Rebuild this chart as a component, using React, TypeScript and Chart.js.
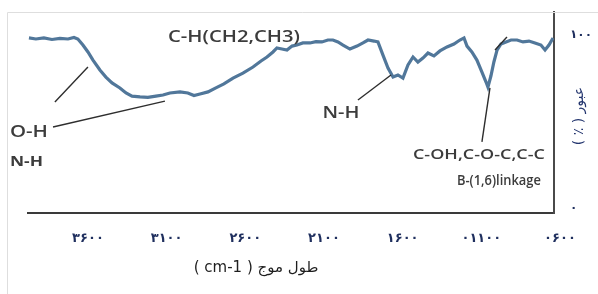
import React, { useEffect, useRef } from "react";
import { Chart, registerables } from "chart.js";

Chart.register(...registerables);

// Wavenumber (cm-1) and transmittance (%)
const wavenumbers = [
  3975, 3931, 3880, 3829, 3778, 3727, 3689, 3664, 3632, 3600, 3568, 3524, 3486, 3447, 3397, 3358,
  3320, 3269, 3219, 3168, 3123, 3079, 3015, 2965, 2926, 2888, 2837, 2787, 2736, 2678, 2615, 2551,
  2500, 2462, 2424, 2399, 2367, 2335, 2303, 2272, 2234, 2189, 2151, 2113, 2075, 2043, 2011, 1979,
  1935, 1890, 1852, 1820, 1782, 1757, 1725, 1693, 1661, 1630, 1598, 1566, 1534, 1503, 1471, 1439,
  1401, 1363, 1318, 1274, 1236, 1210, 1191, 1160, 1128, 1096, 1070, 1058, 1039, 1020, 1000, 975,
  943, 911, 873, 835, 797, 759, 721, 695, 670, 644,
];
const transmittance = [
  98.3, 97.7, 98.3, 97.4, 98.0, 97.7, 98.6, 97.7, 94.2, 90.2, 85.5, 79.8, 75.7, 72.3, 69.4, 66.5,
  64.7, 64.2, 63.9, 64.7, 65.3, 66.5, 67.1, 66.5, 65.0, 65.9, 67.1, 69.4, 71.7, 75.1, 78.0, 81.5,
  85.0, 87.3, 90.2, 92.5, 91.9, 91.3, 93.6, 94.2, 95.4, 95.4, 96.2, 96.0, 97.1, 97.1, 96.0, 94.2,
  91.9, 93.6, 95.4, 97.1, 96.5, 96.0, 88.4, 80.9, 75.7, 76.9, 75.1, 82.7, 87.3, 84.4, 86.7, 89.6,
  87.9, 90.8, 93.1, 94.8, 97.1, 98.3, 93.6, 90.2, 85.5, 78.6, 72.8, 69.9, 76.3, 84.4, 91.3, 94.8,
  96.0, 97.1, 97.1, 96.0, 96.5, 95.4, 94.2, 91.3, 94.2, 98.3,
];

const xTickValues = [3600, 3100, 2600, 2100, 1600, 1100, 600];
const xTickLabels = ["۳۶۰۰", "۳۱۰۰", "۲۶۰۰", "۲۱۰۰", "۱۶۰۰", "۰۱۱۰۰", "۰۶۰۰"];
const yTickValues = [0, 100];
const yTickLabels = ["۰", "۱۰۰"];

const xAxisTitle = "طول موج ( cm-1 )";
const yAxisTitle = "عبور ( ٪ )";

// Band annotations (text, anchor in data units)
const bandTexts = ["C-H(CH2,CH3)", "O-H", "N-H", "N-H", "C-OH,C-O-C,C-C", "B-(1,6)linkage"];
const bandX = [2672, 3975, 3991, 1992, 1115, 988];
const bandY = [98.8, 43.9, 26.6, 54.9, 30.6, 15.6];
// Leader lines (data units)
const leaderFromX = [3810, 3822, 1884, 1096, 1013];
const leaderFromY = [61.3, 46.8, 62.4, 38.2, 91.3];
const leaderToX = [3600, 3111, 1674, 1045, 937];
const leaderToY = [81.5, 61.8, 76.9, 69.4, 98.8];

// style per annotation: font size, target width, weight
const bandStyle = [
  { size: 17, w: 132, weight: "600" },
  { size: 17, w: 38, weight: "600" },
  { size: 14, w: 33, weight: "700" },
  { size: 17, w: 37, weight: "600" },
  { size: 15, w: 132, weight: "600" },
  { size: 14, w: 84, weight: "600" },
];

const X_MIN = 638;
const X_MAX = 3981;
const Y_MIN = -2.9;
const Y_MAX = 113.3;

const annotationPlugin = {
  id: "annots",
  afterDraw(chart: any) {
    const ctx = chart.ctx as CanvasRenderingContext2D;
    const xs = chart.scales.x;
    const ys = chart.scales.y;
    ctx.save();
    // outer light frame
    ctx.strokeStyle = "#dedede";
    ctx.lineWidth = 1;
    ctx.beginPath();
    ctx.moveTo(7.5, 294);
    ctx.lineTo(7.5, 12.5);
    ctx.lineTo(598, 12.5);
    ctx.stroke();

    // leader lines
    ctx.strokeStyle = "#2e2e2e";
    ctx.lineWidth = 1.4;
    for (let i = 0; i < leaderFromX.length; i++) {
      ctx.beginPath();
      ctx.moveTo(xs.getPixelForValue(leaderFromX[i]), ys.getPixelForValue(leaderFromY[i]));
      ctx.lineTo(xs.getPixelForValue(leaderToX[i]), ys.getPixelForValue(leaderToY[i]));
      ctx.stroke();
    }

    // band labels
    ctx.fillStyle = "#3c3c3c";
    ctx.textAlign = "center";
    ctx.textBaseline = "middle";
    (ctx as any).direction = "ltr";
    for (let i = 0; i < bandTexts.length; i++) {
      const st = bandStyle[i];
      ctx.font = `${st.weight} ${st.size}px "Open Sans", sans-serif`;
      const mw = ctx.measureText(bandTexts[i]).width;
      const sx = st.w / mw;
      ctx.save();
      ctx.translate(xs.getPixelForValue(bandX[i]), ys.getPixelForValue(bandY[i]));
      ctx.scale(sx, 1);
      ctx.fillText(bandTexts[i], 0, 0);
      ctx.restore();
    }

    // axis titles
    (ctx as any).direction = "rtl";
    ctx.fillStyle = "#1e1e1e";
    ctx.font = `15px "DejaVu Sans", sans-serif`;
    ctx.fillText(xAxisTitle, 256, 268);

    ctx.save();
    ctx.translate(579, 116);
    ctx.rotate(-Math.PI / 2);
    ctx.fillStyle = "#23356e";
    ctx.font = `14px "DejaVu Sans", sans-serif`;
    ctx.fillText(yAxisTitle, 0, 0);
    ctx.restore();

    ctx.restore();
  },
};

export default function App() {
  const ref = useRef<HTMLCanvasElement | null>(null);
  useEffect(() => {
    if (!ref.current) return;
    const chart = new Chart(ref.current, {
      type: "line",
      data: {
        datasets: [
          {
            data: wavenumbers.map((x, i) => ({ x, y: transmittance[i] })),
            borderColor: "#51779a",
            borderWidth: 3.2,
            pointRadius: 0,
            tension: 0,
            fill: false,
          },
        ],
      },
      options: {
        animation: false,
        responsive: false,
        layout: { padding: { left: 28, top: 12, right: 0, bottom: 0 } },
        plugins: { legend: { display: false }, tooltip: { enabled: false } },
        scales: {
          x: {
            type: "linear",
            reverse: true,
            min: X_MIN,
            max: X_MAX,
            grid: { display: false, drawTicks: false },
            border: { display: true, color: "#3a3a3a", width: 2 },
            ticks: {
              autoSkip: false,
              maxRotation: 0,
              padding: 18,
              color: "#1f2f5e",
              font: { family: "DejaVu Sans", size: 13, weight: "bold" },
              callback: (v: any) => {
                const i = xTickValues.indexOf(Number(v));
                return i >= 0 ? xTickLabels[i] : "";
              },
            },
            afterBuildTicks: (s: any) => {
              s.ticks = xTickValues.map((v) => ({ value: v }));
            },
            afterFit: (s: any) => {
              s.height = 81;
              s.paddingLeft = 0;
              s.paddingRight = 0;
            },
          },
          y: {
            type: "linear",
            position: "right",
            min: Y_MIN,
            max: Y_MAX,
            grid: { display: false, drawTicks: false },
            border: { display: true, color: "#4a4a4a", width: 2 },
            ticks: {
              padding: 16,
              color: "#1f2f5e",
              font: { family: "DejaVu Sans", size: 12, weight: "bold" },
              callback: (v: any) => {
                const i = yTickValues.indexOf(Number(v));
                return i >= 0 ? yTickLabels[i] : "";
              },
            },
            afterBuildTicks: (s: any) => {
              s.ticks = yTickValues.map((v) => ({ value: v }));
            },
            afterFit: (s: any) => {
              s.width = 44;
              s.paddingTop = 0;
              s.paddingBottom = 0;
            },
          },
        },
      },
      plugins: [annotationPlugin],
    });
    return () => chart.destroy();
  }, []);
  return (
    <div style={{ position: "absolute", left: 0, top: 0, width: 598, height: 294, background: "#fff" }}>
      <canvas ref={ref} width={598} height={294} style={{ display: "block", width: 598, height: 294 }} />
    </div>
  );
}
